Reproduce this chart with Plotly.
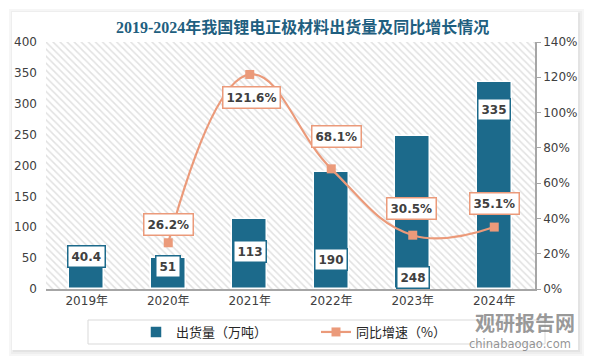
import plotly.graph_objects as go

years = ["2019年", "2020年", "2021年", "2022年", "2023年", "2024年"]
shipments = [40.4, 51, 113, 190, 248, 335]
growth = [None, 26.2, 121.6, 68.1, 30.5, 35.1]
bar_labels = ["40.4", "51", "113", "190", "248", "335"]
growth_labels = [None, "26.2%", "121.6%", "68.1%", "30.5%", "35.1%"]
# label box positions (data units) chosen to match reference placement
bar_label_y = [52, 37, 60, 47, 18, 290]
growth_label_y = [None, 36.3, 108.3, 86.2, 45.9, 48.7]
growth_label_xshift = [0, 0, 2, 5, -1, 0]

W, H = 592, 364
L, R, T, B = 46, 57, 42, 75
pw, ph = W - L - R, H - T - B

def px(x):
    return (x - L) / pw

def py(y):
    return (H - B - y) / ph

BAR = "#1c6a8b"
LINE = "#eb9a7a"
TXT = "#404040"

fig = go.Figure()

# hatched plot background
fig.add_trace(go.Bar(
    x=years, y=[400] * 6, width=1, yaxis="y",
    marker=dict(color="white", line=dict(width=0),
                pattern=dict(shape="\\", fgcolor="#c4c4c4", bgcolor="white", size=5, solidity=0.3)),
    showlegend=False, hoverinfo="skip",
))

fig.add_trace(go.Bar(
    x=years, y=shipments, name="出货量（万吨）", width=0.43, legend="legend",
    marker=dict(color=BAR, line=dict(color="white", width=1.5)),
))

fig.add_trace(go.Scatter(
    x=years, y=growth, name="同比增速（%）", yaxis="y2", legend="legend2",
    mode="lines+markers", line=dict(color=LINE, width=2.2, shape="spline", smoothing=1.2),
    marker=dict(symbol="square", size=9, color=LINE), connectgaps=False,
))

ann = []
for i, yr in enumerate(years):
    ann.append(dict(x=yr, y=bar_label_y[i], xref="x", yref="y", text="<b>%s</b>" % bar_labels[i],
                    showarrow=False, font=dict(size=12, color=TXT, family="DejaVu Sans"),
                    bgcolor="white", bordercolor=BAR, borderwidth=1.5, borderpad=3))
    if growth_labels[i]:
        ann.append(dict(x=yr, y=growth_label_y[i], xref="x", yref="y2", text="<b>%s</b>" % growth_labels[i],
                        xshift=growth_label_xshift[i],
                        showarrow=False, font=dict(size=12, color=TXT, family="DejaVu Sans"),
                        bgcolor="white", bordercolor=LINE, borderwidth=1.5, borderpad=3))

ann.append(dict(x=px(302), y=py(27), xref="paper", yref="paper", xanchor="center", yanchor="middle",
                text="<b>2019-2024年我国锂电正极材料出货量及同比增长情况</b>", showarrow=False,
                font=dict(size=16, color="#1f5f80", family="Liberation Serif, Noto Sans CJK SC")))
ann.append(dict(x=px(525), y=py(322), xref="paper", yref="paper", xanchor="center", yanchor="middle",
                text="<b>观研报告网</b>", showarrow=False,
                font=dict(size=20, color="rgba(120,120,120,0.75)", family="Noto Sans CJK SC")))
ann.append(dict(x=px(520), y=py(344), xref="paper", yref="paper", xanchor="center", yanchor="middle",
                text="chinabaogao.com", showarrow=False,
                font=dict(size=11.5, color="rgba(120,120,120,0.8)", family="DejaVu Sans")))

shapes = []
# card shadow
for off, col in [(5, "#f6f6f6"), (3, "#eeeeee"), (1, "#e3e3e3")]:
    shapes.append(dict(type="rect", xref="paper", yref="paper", layer="below",
                       x0=px(12 - off + 2), x1=px(579 + off), y0=py(351 + off), y1=py(12 - off + 2),
                       fillcolor=col, line=dict(width=0)))
shapes.append(dict(type="rect", xref="paper", yref="paper", layer="below",
                   x0=px(12), x1=px(578), y0=py(350), y1=py(12),
                   fillcolor="white", line=dict(width=0)))
# legend box
shapes.append(dict(type="rect", xref="paper", yref="paper",
                   x0=px(88), x1=px(545), y0=py(344), y1=py(320),
                   line=dict(color="#d9d9d9", width=1)))

legend_common = dict(orientation="h", yanchor="middle", bgcolor="rgba(0,0,0,0)",
                     font=dict(size=13, color="#262626", family="Noto Sans CJK SC"))

fig.update_layout(
    width=W, height=H, margin=dict(l=L, r=R, t=T, b=B, autoexpand=False),
    paper_bgcolor="white", plot_bgcolor="white",
    barmode="overlay", bargap=0,
    font=dict(family="DejaVu Sans, Noto Sans CJK SC", size=12, color=TXT),
    xaxis=dict(type="category", showline=True, linecolor="#a6a6a6", linewidth=1.5,
               ticks="", tickfont=dict(size=12, color=TXT), range=[-0.5, 5.5], fixedrange=True),
    yaxis=dict(range=[0, 400], dtick=50, showgrid=False, zeroline=False, showline=False,
               ticklabelstandoff=8, tickfont=dict(size=12, color=TXT)),
    yaxis2=dict(range=[0, 140], dtick=20, ticksuffix="%", overlaying="y", side="right",
                showgrid=False, zeroline=False, showline=True, linecolor="#a6a6a6", linewidth=1.5,
                ticks="outside", ticklen=4, tickcolor="#a6a6a6", tickfont=dict(size=12, color=TXT)),
    legend=dict(x=px(136), y=py(332), xanchor="left", **legend_common),
    legend2=dict(x=px(316), y=py(332), xanchor="left", **legend_common),
    annotations=ann, shapes=shapes, showlegend=True,
)

fig.write_html("out.html", config={"displayModeBar": False},
               post_script="document.body.style.margin='0';document.body.style.overflow='hidden';")
